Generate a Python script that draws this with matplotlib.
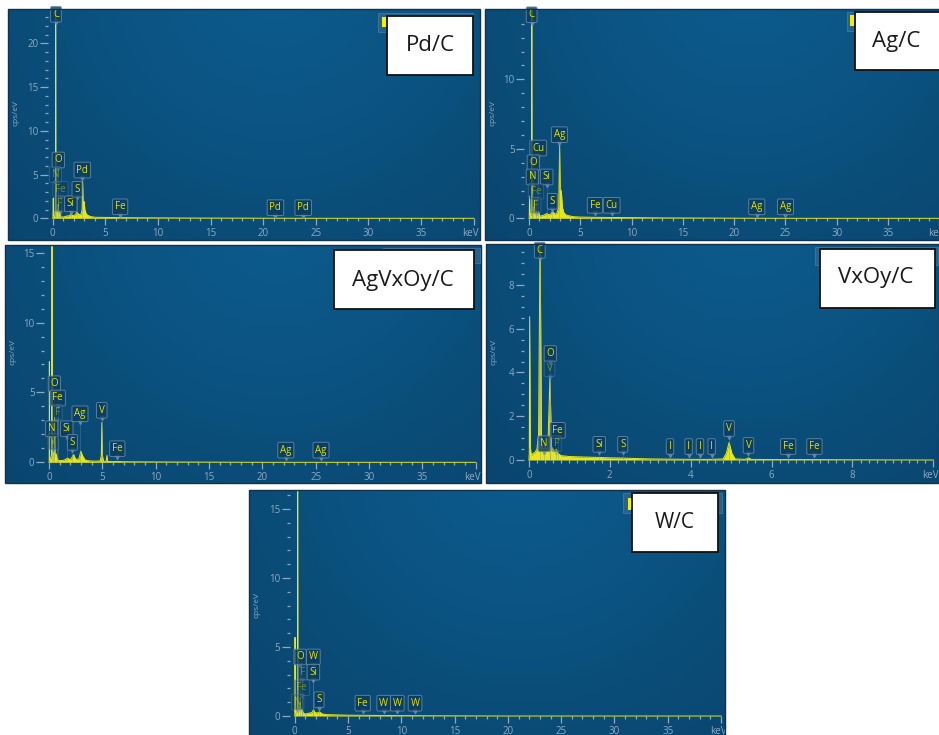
import numpy as np
import matplotlib.pyplot as plt
import matplotlib.transforms as mtransforms
from matplotlib.patches import Rectangle

plt.rcParams['font.family'] = ['Open Sans', 'DejaVu Sans']

W, H = 939, 735

# ---------- Spektren ----------
# Pd/C
pdc_kev = [0.0, 0.02, 0.05, 0.09, 0.15, 0.22, 0.255, 0.277, 0.30, 0.35, 0.39, 0.43, 0.49, 0.525,
           0.56, 0.64, 0.68, 0.72, 0.8, 1.0, 1.3, 1.6, 1.74, 1.9, 2.1, 2.31, 2.5, 2.7, 2.79, 2.84,
           2.9, 2.96, 2.99, 3.05, 3.15, 3.3, 3.6, 4.0, 5.0, 6.4, 8.0, 10.0, 13.0, 17.0, 20.0, 25.0, 40.0]
pdc_cps = [0.0, 0.1, 2.3, 0.3, 0.2, 0.3, 1.2, 26.0, 1.0, 0.4, 0.9, 0.3, 0.4, 1.6,
           0.3, 0.3, 0.8, 0.3, 0.15, 0.15, 0.25, 0.3, 0.5, 0.3, 0.35, 0.7, 0.4, 0.5, 1.0, 4.2,
           1.0, 1.5, 1.9, 1.0, 0.6, 0.35, 0.2, 0.12, 0.1, 0.08, 0.06, 0.05, 0.03, 0.02, 0.01, 0.0, 0.0]
pdc_lab = ["C", "O", "N", "Fe", "F", "Si", "S", "Pd", "Fe", "Pd", "Pd"]
pdc_lab_kev = [0.31, 0.53, 0.26, 0.74, 0.69, 1.71, 2.31, 2.81, 6.4, 21.16, 23.8]
pdc_lab_cps = [22.4, 5.75, 4.07, 2.4, 0.72, 0.75, 2.4, 4.6, 0.4, 0.3, 0.3]
pdc_lab_dim = [0, 0, 1, 1, 1, 0, 0, 0, 0, 0, 0]

# Ag/C
agc_kev = [0.0, 0.02, 0.05, 0.09, 0.15, 0.22, 0.255, 0.277, 0.30, 0.35, 0.39, 0.44, 0.49, 0.525,
           0.56, 0.64, 0.7, 0.8, 0.93, 1.05, 1.3, 1.5, 1.74, 1.95, 2.1, 2.31, 2.5, 2.7, 2.9, 2.98,
           3.05, 3.15, 3.25, 3.4, 3.6, 3.9, 4.3, 5.0, 6.4, 8.0, 10.0, 13.0, 17.0, 20.0, 25.0, 40.0]
agc_cps = [0.0, 0.1, 1.6, 0.3, 0.2, 0.3, 1.0, 17.0, 1.0, 0.4, 0.8, 0.3, 0.4, 1.3,
           0.3, 0.3, 0.5, 0.2, 0.5, 0.15, 0.2, 0.25, 0.35, 0.25, 0.3, 0.5, 0.3, 0.35, 0.8, 5.3,
           1.2, 2.0, 0.8, 0.4, 0.25, 0.18, 0.12, 0.09, 0.07, 0.06, 0.05, 0.03, 0.02, 0.01, 0.0, 0.0]
agc_lab = ["C", "Ag", "Cu", "O", "N", "Si", "Fe", "F", "S", "Fe", "Cu", "Ag", "Ag"]
agc_lab_kev = [0.26, 2.96, 0.9, 0.42, 0.32, 1.72, 0.68, 0.68, 2.27, 6.43, 8.06, 22.2, 25.0]
agc_lab_cps = [14.07, 5.44, 4.48, 3.42, 2.4, 2.4, 1.37, 0.36, 0.65, 0.36, 0.36, 0.25, 0.25]
agc_lab_dim = [0, 0, 0, 0, 0, 0, 1, 1, 0, 0, 0, 0, 0]

# AgVxOy/C
agv_kev = [0.0, 0.015, 0.03, 0.05, 0.1, 0.18, 0.24, 0.255, 0.277, 0.30, 0.35, 0.39, 0.44, 0.49,
           0.52, 0.56, 0.62, 0.68, 0.75, 0.85, 1.0, 1.4, 1.74, 2.0, 2.31, 2.5, 2.8, 2.98, 3.15,
           3.4, 3.8, 4.3, 4.8, 4.9, 4.95, 5.0, 5.1, 5.35, 5.43, 5.5, 6.0, 6.4, 7.0, 9.0, 12.0,
           16.0, 20.0, 40.0]
agv_cps = [0.0, 0.2, 7.2, 0.4, 0.2, 0.3, 0.6, 1.5, 17.0, 0.8, 0.4, 0.7, 0.4, 0.6,
           3.2, 0.6, 0.4, 0.6, 0.3, 0.15, 0.12, 0.15, 0.3, 0.18, 0.55, 0.2, 0.25, 0.8, 0.45,
           0.15, 0.1, 0.08, 0.1, 0.5, 2.85, 0.5, 0.08, 0.06, 0.5, 0.06, 0.05, 0.06, 0.04, 0.03, 0.02,
           0.01, 0.0, 0.0]
agv_lab = ["O", "Fe", "F", "N", "V", "Si", "S", "Ag", "V", "Fe", "Ag", "Ag"]
agv_lab_kev = [0.5, 0.82, 0.77, 0.25, 0.4, 1.66, 2.19, 2.9, 4.94, 6.4, 22.2, 25.5]
agv_lab_cps = [5.05, 4.03, 3.0, 1.83, 0.9, 1.83, 0.85, 2.9, 3.15, 0.4, 0.3, 0.3]
agv_lab_dim = [0, 0, 1, 0, 1, 0, 0, 0, 0, 0, 0, 0]

# VxOy/C
vox_kev = [0.0, 0.01, 0.02, 0.035, 0.06, 0.1, 0.15, 0.2, 0.24, 0.277, 0.31, 0.35, 0.39, 0.43,
           0.47, 0.52, 0.56, 0.6, 0.64, 0.68, 0.72, 0.8, 1.0, 1.3, 1.7, 2.0, 2.31, 2.6, 3.0, 3.5,
           4.0, 4.5, 4.8, 4.88, 4.95, 5.02, 5.1, 5.35, 5.43, 5.5, 6.0, 7.0, 8.0, 10.0]
vox_cps = [0.0, 0.3, 6.55, 0.6, 0.2, 0.3, 0.35, 0.5, 1.2, 10.5, 0.9, 0.4, 0.7, 0.5,
           0.6, 3.75, 0.6, 0.5, 0.4, 0.5, 0.3, 0.2, 0.16, 0.14, 0.12, 0.1, 0.09, 0.07, 0.05, 0.04,
           0.03, 0.03, 0.05, 0.3, 0.8, 0.3, 0.05, 0.03, 0.1, 0.03, 0.02, 0.02, 0.01, 0.0]
vox_lab = ["C", "O", "V", "Fe", "N", "F", "Si", "S", "I", "I", "I", "I", "V", "V", "Fe", "Fe"]
vox_lab_kev = [0.27, 0.53, 0.51, 0.71, 0.38, 0.68, 1.74, 2.32, 3.49, 3.95, 4.23, 4.52, 4.95, 5.43, 6.41, 7.06]
vox_lab_cps = [9.22, 4.5, 3.81, 0.99, 0.38, 0.38, 0.35, 0.35, 0.25, 0.25, 0.25, 0.25, 1.07, 0.3, 0.25, 0.25]
vox_lab_dim = [0, 0, 1, 0, 0, 1, 0, 0, 0, 0, 0, 0, 0, 0, 0, 0]

# W/C
wc_kev = [0.0, 0.015, 0.03, 0.05, 0.1, 0.18, 0.24, 0.255, 0.277, 0.30, 0.35, 0.39, 0.45, 0.52,
          0.58, 0.7, 0.8, 1.0, 1.3, 1.6, 1.77, 1.9, 2.1, 2.31, 2.6, 3.0, 4.0, 5.0, 6.4, 8.4, 9.7,
          12.0, 16.0, 20.0, 40.0]
wc_cps = [0.0, 0.2, 5.7, 0.3, 0.2, 0.3, 0.6, 2.0, 18.0, 0.8, 0.3, 0.5, 0.3, 1.0,
          0.3, 0.5, 0.2, 0.15, 0.2, 0.25, 0.45, 0.25, 0.22, 0.3, 0.15, 0.1, 0.08, 0.06, 0.05, 0.04, 0.03,
          0.02, 0.01, 0.0, 0.0]
wc_lab = ["O", "W", "F", "Si", "Fe", "N", "S", "Fe", "W", "W", "W"]
wc_lab_kev = [0.5, 1.75, 0.71, 1.75, 0.66, 0.28, 2.28, 6.38, 8.35, 9.62, 11.29]
wc_lab_cps = [3.7, 3.7, 2.6, 2.6, 1.47, 0.43, 0.6, 0.35, 0.35, 0.35, 0.35]
wc_lab_dim = [0, 0, 1, 0, 1, 1, 0, 0, 0, 0, 0]

sample_names = ["Pd/C", "Ag/C", "AgVxOy/C", "VxOy/C", "W/C"]

# ---------- Layout (Pixel) ----------
panels = [
    dict(kev=pdc_kev, cps=pdc_cps, lab=pdc_lab, lkev=pdc_lab_kev, lcps=pdc_lab_cps, dim=pdc_lab_dim,
         rect=(8, 9, 480, 240), xlim=(-4.25, 40.6), ylim=(-2.48, 23.92),
         xmaj=(0, 40, 5), xmin=1, ymaj=[0, 5, 10, 15, 20], ymin=(0, 23, 1),
         box=(386.7, 15.7, 473.3, 75), txt=(430, 45.3), fs=16,
         stub=(377.7, 12.7, 473, 31.7), sq=(381.7, 17, 386.7, 27)),
    dict(kev=agc_kev, cps=agc_cps, lab=agc_lab, lkev=agc_lab_kev, lcps=agc_lab_cps, dim=agc_lab_dim,
         rect=(485, 9, 945, 240), xlim=(-4.29, 40.55), ylim=(-1.56, 15.06),
         xmaj=(0, 40, 5), xmin=1, ymaj=[0, 5, 10], ymin=(0, 14, 1),
         box=(855, 11.7, 945, 70), txt=(896, 41), fs=16,
         stub=(846.7, 12, 945, 31), sq=(850, 15, 854.5, 26)),
    dict(kev=agv_kev, cps=agv_cps, lab=agv_lab, lkev=agv_lab_kev, lcps=agv_lab_cps, dim=agv_lab_dim,
         rect=(5, 245, 481, 483), xlim=(-4.13, 40.5), ylim=(-1.48, 15.55),
         xmaj=(0, 40, 5), xmin=1, ymaj=[0, 5, 10, 15], ymin=(0, 15, 1),
         box=(334.3, 250, 474, 309.3), txt=(403, 280.5), fs=16,
         stub=(383, 248, 480, 263), sq=None),
    dict(kev=vox_kev, cps=vox_cps, lab=vox_lab, lkev=vox_lab_kev, lcps=vox_lab_cps, dim=vox_lab_dim,
         rect=(486, 244, 939, 483), xlim=(-1.06, 10.14), ylim=(-1.05, 9.87),
         xmaj=(0, 10, 2), xmin=0.2, ymaj=[0, 2, 4, 6, 8], ymin=(0, 9.5, 0.5),
         box=(820, 249, 935, 307.7), txt=(876, 277.7), fs=16,
         stub=(815, 247, 938, 265), sq=None),
    dict(kev=wc_kev, cps=wc_cps, lab=wc_lab, lkev=wc_lab_kev, lcps=wc_lab_cps, dim=wc_lab_dim,
         rect=(249, 490, 725, 745), xlim=(-4.29, 40.37), ylim=(-2.1, 16.38),
         xmaj=(0, 40, 5), xmin=1, ymaj=[0, 5, 10, 15], ymin=(0, 16, 1),
         box=(631.7, 493.3, 717.7, 551.7), txt=(675, 523), fs=15,
         stub=(623.3, 493, 722, 513), sq=(627.7, 498, 631.7, 510)),
]

YEL = '#e6e619'
TICK = '#8eaac2'
BOX_FC = '#0c3b5c'
BOX_EC = '#6a8fab'
LAB_TXT = '#e3e300'


def background(wpx, hpx):
    yy, xx = np.mgrid[0:hpx, 0:wpx]
    cx, cy, r = 0.57 * wpx, -0.15 * hpx, 0.47 * wpx
    d = np.hypot(xx - cx, yy - cy)
    t = np.clip(d / (1.05 * wpx), 0, 1)[..., None]
    light = np.array([0x0c, 0x5b, 0x8c]) / 255
    dark = np.array([0x09, 0x3f, 0x66]) / 255
    img = light * (1 - t) + dark * t
    img[d < r] += np.array([0.0, 0.006, 0.01])
    return np.clip(img, 0, 1)


def fig_rect(fig, x0, y0, x1, y1, **kw):
    fig.add_artist(Rectangle((x0 / W, 1 - y1 / H), (x1 - x0) / W, (y1 - y0) / H,
                             transform=fig.transFigure, **kw))


fig = plt.figure(figsize=(W / 100, H / 100), dpi=100)
shift_left = mtransforms.ScaledTranslation(-3 / 100, 0, fig.dpi_scale_trans)

for p, name in zip(panels, sample_names):
    l, t, r, b = p['rect']
    ax = fig.add_axes([l / W, 1 - b / H, (r - l) / W, (b - t) / H])
    ax.imshow(background(int(r - l), int(b - t)), extent=(0, 1, 0, 1),
              transform=ax.transAxes, aspect='auto', zorder=0)

    # Spektrum
    ax.fill_between(p['kev'], p['cps'], 0, color=YEL, lw=0, zorder=2)
    ax.plot(p['kev'], p['cps'], color=YEL, lw=0.7, zorder=2)

    # Peak-Beschriftungen
    for el, ek, ec, dm in zip(p['lab'], p['lkev'], p['lcps'], p['dim']):
        a = 0.45 if dm else 1.0
        ax.vlines(ek, 0, ec, color=BOX_EC, lw=0.5, alpha=0.45, zorder=3)
        ax.plot(ek, ec, marker='v', ms=3, color=BOX_EC, alpha=0.8 * a, zorder=4, clip_on=False)
        ax.annotate(el, xy=(ek, ec), xytext=(0, 1.8), textcoords='offset points',
                    ha='center', va='bottom', fontsize=7, color=LAB_TXT, alpha=a,
                    bbox=dict(boxstyle='round,pad=0.24,rounding_size=0.15', fc=BOX_FC,
                              ec=BOX_EC, lw=0.7, alpha=0.8 * a),
                    zorder=5)

    ax.set_xlim(*p['xlim'])
    ax.set_ylim(*p['ylim'])

    # Achsen
    kev_per_px = (p['xlim'][1] - p['xlim'][0]) / (r - l)
    for s in ['top', 'right', 'left', 'bottom']:
        ax.spines[s].set_visible(False)
    ax.spines['left'].set_position(('data', -5 * kev_per_px))
    ax.spines['bottom'].set_position(('data', 0))

    x0, x1, dx = p['xmaj']
    xt = np.arange(x0, x1 + dx / 2, dx)
    ax.set_xticks(xt)
    ax.set_xticklabels([f"{v:g}" for v in xt[:-1]] + ["keV"])
    ax.set_xticks(np.arange(0, x1 + p['xmin'] / 2, p['xmin']), minor=True)
    ax.set_yticks(p['ymaj'])
    ax.set_yticklabels([f"{v:g}" for v in p['ymaj']])
    y0, y1, dy = p['ymin']
    ax.set_yticks(np.arange(y0, y1 + dy / 2, dy), minor=True)

    ax.tick_params(axis='x', which='major', length=5, width=0.9, pad=2,
                   colors=TICK, labelsize=7)
    ax.tick_params(axis='x', which='minor', length=2.2, width=0.9, colors=TICK)
    ax.tick_params(axis='y', which='major', length=5.8, width=0.9, pad=1,
                   colors=TICK, labelsize=7)
    ax.tick_params(axis='y', which='minor', length=2.2, width=0.9, colors=TICK)
    kev_lab = ax.get_xticklabels()[-1]
    kev_lab.set_transform(kev_lab.get_transform() + shift_left)

    ax.text(8 / (r - l), 0.55, "cps/eV", transform=ax.transAxes, rotation=90,
            ha='center', va='center', fontsize=6, color=TICK)

    ax.add_patch(Rectangle((0, 0), 1, 1, transform=ax.transAxes, fill=False,
                           ec='#12324c', lw=1.0, clip_on=False, zorder=6))

    # Legenden-Rest und Probenname
    fig_rect(fig, *p['stub'], fc='#2f6690', ec='#4d7fa3', lw=0.6, alpha=0.8, zorder=8)
    if p['sq'] is not None:
        fig_rect(fig, *p['sq'], fc='#f0f000', lw=0, zorder=9)
    fig_rect(fig, *p['box'], fc='white', ec='#111111', lw=1.3, zorder=10)
    fig.text(p['txt'][0] / W, 1 - p['txt'][1] / H, name, ha='center', va='center',
             fontsize=p['fs'], color='#1a1a1a', zorder=11)

fig.savefig("out.png", dpi=100)
